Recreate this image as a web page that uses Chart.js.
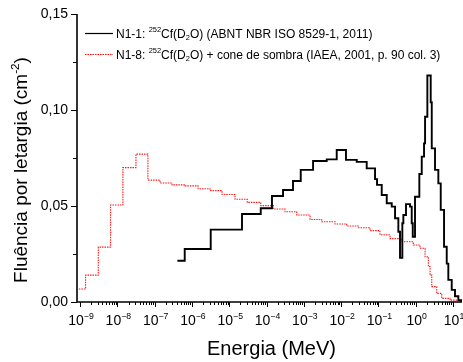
<!DOCTYPE html>
<html><head><meta charset="utf-8">
<script src="https://cdn.jsdelivr.net/npm/chart.js@4"></script>
<style>html,body{margin:0;padding:0;background:#fff}</style>
</head><body>
<canvas id="c" width="463" height="362"></canvas>
<script>
// N1-1: 252Cf(D2O) (ABNT NBR ISO 8529-1, 2011) — bin left edges (MeV) and fluence per lethargy
const n11Energy = [4.07e-7, 6.41e-7, 3.19e-6, 2.20e-5, 7.0e-5, 1.40e-4, 2.77e-4, 5.13e-4, 8.26e-4, 1.77e-3,
  4.11e-3, 7.62e-3, 0.0135, 0.0262, 0.0485, 0.0811, 0.0917, 0.1225, 0.167, 0.2275,
  0.279, 0.342, 0.379, 0.4375, 0.466, 0.549, 0.703, 0.781, 0.832, 0.957,
  1.25, 1.45, 1.67, 1.78, 2.05, 2.52, 2.69, 3.29, 4.04, 4.68,
  5.74, 6.78, 7.48, 9.23, 11.3, 13.9, 16.4];
const n11Value = [0.0215, 0.0276, 0.0377, 0.0458, 0.0488, 0.0552, 0.0583, 0.0630, 0.0688, 0.0734,
  0.0743, 0.0792, 0.0740, 0.0730, 0.0696, 0.0640, 0.0610, 0.0557, 0.0514, 0.0497,
  0.0436, 0.0366, 0.0230, 0.0410, 0.0453, 0.0510, 0.0497, 0.0410, 0.0340, 0.0548,
  0.0667, 0.0757, 0.0826, 0.0965, 0.1180, 0.1040, 0.0800, 0.0688, 0.0618, 0.0480,
  0.0288, 0.0200, 0.0115, 0.0063, 0.0030, 0.0010, 0.0];

// N1-8: 252Cf(D2O) + cone de sombra (IAEA, 2001, p. 90 col. 3)
const n18Energy = [9.3e-10, 1.41e-9, 3.09e-9, 6.6e-9, 1.41e-8, 3.16e-8, 6.6e-8, 1.40e-7, 2.93e-7, 6.53e-7,
  1.46e-6, 3.05e-6, 6.41e-6, 1.43e-5, 3.05e-5, 7.0e-5, 1.52e-4, 3.13e-4, 6.46e-4, 1.47e-3,
  3.02e-3, 6.86e-3, 0.0141, 0.0289, 0.0596, 0.110, 0.205, 0.422, 0.863, 1.30,
  1.78, 2.18, 2.42, 2.69, 3.66, 4.98, 8.32, 15.4];
const n18Value = [0.0068, 0.0140, 0.0286, 0.0505, 0.0700, 0.0770, 0.0635, 0.0620, 0.0610, 0.0605,
  0.0590, 0.0580, 0.0560, 0.0535, 0.0519, 0.0502, 0.0484, 0.0470, 0.0453, 0.0430,
  0.0418, 0.0406, 0.0396, 0.0387, 0.0372, 0.0350, 0.0330, 0.0314, 0.0297, 0.0280,
  0.0236, 0.0184, 0.0140, 0.0080, 0.0045, 0.0019, 0.0010, 0.0];

const xTickPowers = [-9, -8, -7, -6, -5, -4, -3, -2, -1, 0, 1];
const yTickValues = [0.00, 0.05, 0.10, 0.15];
const yMinorValues = [0.025, 0.075, 0.125];

const legendN11 = [{t: 'N1-1: '}, {t: '252', s: 'sup'}, {t: 'Cf(D'}, {t: '2', s: 'sub'}, {t: 'O) (ABNT NBR ISO 8529-1, 2011)'}];
const legendN18 = [{t: 'N1-8: '}, {t: '252', s: 'sup'}, {t: 'Cf(D'}, {t: '2', s: 'sub'}, {t: 'O) + cone de sombra (IAEA, 2001, p. 90 col. 3)'}];
const xTitle = [{t: 'Energia (MeV)'}];
const yTitle = [{t: 'Fluência por letargia (cm'}, {t: '-2', s: 'sup'}, {t: ')'}];

const FONT = '"Liberation Sans", Arial, sans-serif';

function pts(xs, ys) { return xs.map((x, i) => ({x: x, y: ys[i]})); }

function richWidth(ctx, parts, size) {
  let w = 0;
  for (const p of parts) {
    const sz = p.s ? size * 0.62 : size;
    ctx.font = sz + 'px ' + FONT;
    w += ctx.measureText(p.t).width;
  }
  return w;
}
function drawRich(ctx, parts, x, y, size) {
  let cx = x;
  ctx.textBaseline = 'alphabetic';
  ctx.textAlign = 'left';
  for (const p of parts) {
    const sz = p.s ? size * 0.62 : size;
    ctx.font = sz + 'px ' + FONT;
    let dy = 0;
    if (p.s === 'sup') dy = -size * 0.42;
    if (p.s === 'sub') dy = size * 0.22;
    ctx.fillText(p.t, cx, y + dy);
    cx += ctx.measureText(p.t).width;
  }
}

const axesPlugin = {
  id: 'axesPlugin',
  afterDraw(chart) {
    const ctx = chart.ctx;
    const xs = chart.scales.x, ys = chart.scales.y;
    const area = chart.chartArea;
    ctx.save();
    ctx.strokeStyle = '#000';
    ctx.fillStyle = '#000';
    // axis lines
    ctx.lineWidth = 1.6;
    ctx.beginPath();
    ctx.moveTo(area.left, area.top);
    ctx.lineTo(area.left, area.bottom);
    ctx.lineTo(area.right, area.bottom);
    ctx.stroke();
    ctx.lineWidth = 1;
    // y ticks
    ctx.beginPath();
    for (const v of yTickValues) {
      const py = Math.round(ys.getPixelForValue(v)) + 0.5;
      ctx.moveTo(area.left - 6, py); ctx.lineTo(area.left, py);
    }
    for (const v of yMinorValues) {
      const py = Math.round(ys.getPixelForValue(v)) + 0.5;
      ctx.moveTo(area.left - 4, py); ctx.lineTo(area.left, py);
    }
    // x ticks
    for (const p of xTickPowers) {
      for (let k = 1; k <= 9; k++) {
        const v = k * Math.pow(10, p);
        if (v < xs.min || v > xs.max) continue;
        const px = Math.round(xs.getPixelForValue(v)) + 0.5;
        const len = k === 1 ? 5 : 3;
        ctx.moveTo(px, area.bottom); ctx.lineTo(px, area.bottom + len);
      }
    }
    ctx.stroke();
    // y labels
    ctx.font = '14px ' + FONT;
    ctx.textAlign = 'right';
    ctx.textBaseline = 'middle';
    for (const v of yTickValues) {
      ctx.fillText(v.toFixed(2).replace('.', ','), area.left - 9, ys.getPixelForValue(v));
    }
    // x labels
    for (const p of xTickPowers) {
      const parts = [{t: '10'}, {t: String(p).replace('-', '\u2212'), s: 'sup'}];
      const w = richWidth(ctx, parts, 14);
      const px = xs.getPixelForValue(Math.pow(10, p));
      drawRich(ctx, parts, px - w / 2 + 1, area.bottom + 23, 14);
    }
    // x title
    const tw = richWidth(ctx, xTitle, 20);
    drawRich(ctx, xTitle, (area.left + area.right) / 2 - tw / 2 + 2, 355, 20);
    // y title
    ctx.save();
    ctx.translate(27, (area.top + area.bottom) / 2 + 12);
    ctx.rotate(-Math.PI / 2);
    const yw = richWidth(ctx, yTitle, 19);
    drawRich(ctx, yTitle, -yw / 2, 0, 19);
    ctx.restore();
    // legend
    const items = [
      {parts: legendN11, y: 33, color: '#000', dash: [], width: 1.2},
      {parts: legendN18, y: 54, color: '#ff0000', dash: [1.5, 1], width: 1}
    ];
    for (const it of items) {
      ctx.save();
      ctx.strokeStyle = it.color;
      ctx.lineWidth = it.width;
      ctx.setLineDash(it.dash);
      ctx.beginPath();
      ctx.moveTo(85, it.y + 0.5); ctx.lineTo(113, it.y + 0.5);
      ctx.stroke();
      ctx.restore();
      ctx.fillStyle = '#000';
      drawRich(ctx, it.parts, 116, it.y + 4.5, 12);
    }
    ctx.restore();
  }
};

new Chart(document.getElementById('c'), {
  type: 'line',
  data: {
    datasets: [
      {label: 'N1-1', data: pts(n11Energy, n11Value), borderColor: '#000', borderWidth: 1.9,
        stepped: 'before', pointRadius: 0, fill: false},
      {label: 'N1-8', data: pts(n18Energy, n18Value), borderColor: '#ff1a1a', borderWidth: 1.1,
        borderDash: [1.5, 1], stepped: 'before', pointRadius: 0, fill: false}
    ]
  },
  options: {
    responsive: false,
    devicePixelRatio: 1,
    animation: false,
    parsing: true,
    layout: {padding: {left: 77, top: 14, right: 1, bottom: 60}},
    plugins: {legend: {display: false}, tooltip: {enabled: false}},
    scales: {
      x: {type: 'logarithmic', min: 8.3e-10, max: 17.4, display: false},
      y: {type: 'linear', min: 0, max: 0.15, display: false}
    }
  },
  plugins: [axesPlugin]
});
</script>
</body></html>
